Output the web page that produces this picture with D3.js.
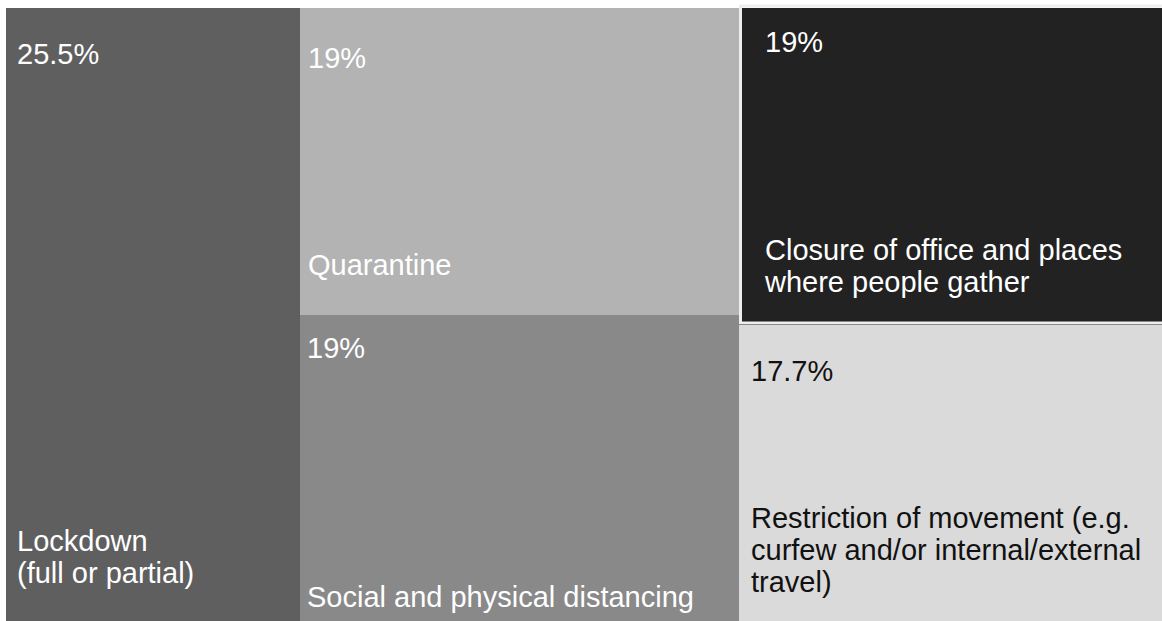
<!DOCTYPE html>
<html>
<head>
<meta charset="utf-8">
<script src="https://cdnjs.cloudflare.com/ajax/libs/d3/7.8.5/d3.min.js"></script>
<style>
  body{margin:0;background:#fff;}
  text{font-family:"Liberation Sans",Arial,Helvetica,sans-serif;}
</style>
</head>
<body>
<script>
// measures and their share (%)
var names=["Lockdown","Quarantine","Social and physical distancing","Closure of office and places","Restriction of movement"]
var labelLines=[["Lockdown","(full or partial)"],["Quarantine"],["Social and physical distancing"],["Closure of office and places","where people gather"],["Restriction of movement (e.g.","curfew and/or internal/external","travel)"]]
var groups=[0,1,1,2,2]
var values=[25.5,19,19,19,17.7]
var pctLabels=["25.5%","19%","19%","19%","17.7%"]

// styling, kept apart from the data
var fills=["#5f5f5f","#b3b3b3","#898989","#222222","#dadada"]
var textFill=["#fff","#fff","#fff","#fff","#111"]
// per tile label nudges: [left, top baseline, bottom baseline]
var nudge=[[11,56,38],[8,60,40],[7,43,14],[26,44,33],[12,56,29]]

var screen={width:1162,height:621}
var margins={top:8,right:0,bottom:0,left:6}
var width=screen.width-margins.left-margins.right
var height=screen.height-margins.top-margins.bottom
var fontSize=29
var lineGap=32

var svg=d3.select("body").append("svg")
          .attr("width",screen.width)
          .attr("height",screen.height)
var plotLand=svg.append("g")
                .attr("transform","translate("+margins.left+","+margins.top+")")

var tree={children:d3.range(3).map(function(g){
  return {children:values.map(function(v,i){return {i:i,value:v}}).filter(function(d){return groups[d.i]==g})}
})}
var root=d3.hierarchy(tree).sum(function(d){return d.value||0})
d3.treemap().size([width,height]).tile(d3.treemapSliceDice).round(true)(root)

var cells=plotLand.selectAll("g.cell")
                  .data(root.leaves())
                  .enter()
                  .append("g")
                  .classed("cell",true)
                  .attr("transform",function(d){return "translate("+d.x0+","+d.y0+")"})
cells.append("rect")
     .attr("width",function(d){return d.x1-d.x0})
     .attr("height",function(d){return d.y1-d.y0})
     .attr("fill",function(d){return fills[d.data.i]})
// the dark tile has a light edge in the original
cells.filter(function(d){return d.data.i==3})
     .append("rect")
     .attr("x",1.5)
     .attr("y",-2)
     .attr("width",function(d){return d.x1-d.x0})
     .attr("height",function(d){return d.y1-d.y0})
     .attr("fill","none")
     .attr("stroke","#eeeeee")
     .attr("stroke-width",3)

cells.append("text")
     .attr("x",function(d){return nudge[d.data.i][0]})
     .attr("y",function(d){return nudge[d.data.i][1]})
     .attr("fill",function(d){return textFill[d.data.i]})
     .attr("font-size",fontSize)
     .text(function(d){return pctLabels[d.data.i]})

cells.each(function(d){
  var i=d.data.i
  var lines=labelLines[i]
  var h=d.y1-d.y0
  d3.select(this).selectAll("text.name")
    .data(lines)
    .enter()
    .append("text")
    .classed("name",true)
    .attr("x",nudge[i][0])
    .attr("y",function(l,j){return h-nudge[i][2]-(lines.length-1-j)*lineGap})
    .attr("fill",textFill[i])
    .attr("font-size",fontSize)
    .text(function(l){return l})
})
</script>
</body>
</html>
